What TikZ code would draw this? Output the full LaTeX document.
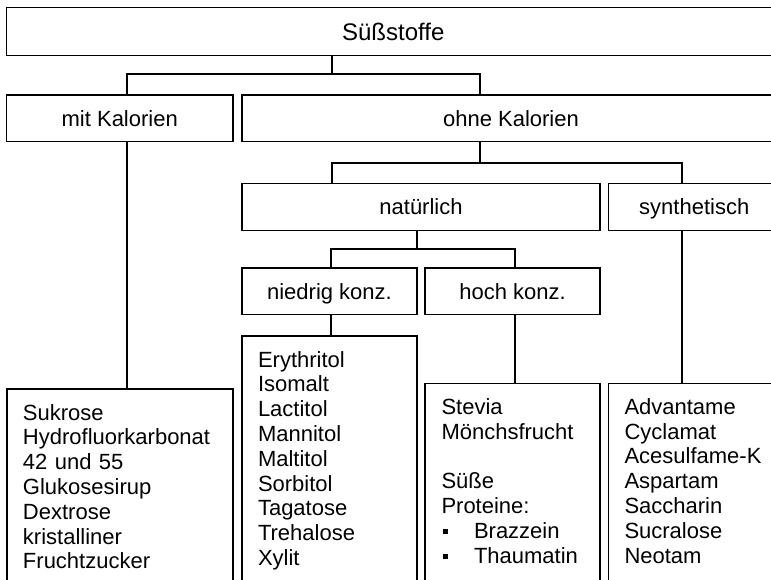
\documentclass[tikz,border=0pt]{standalone}
\usepackage{fontspec}
\setmainfont{Liberation Sans}
\usetikzlibrary{calc}
\begin{document}
\begin{tikzpicture}[x=1pt,y=-1pt,line width=1.4pt,
  box/.style={draw=black,rectangle,inner sep=0pt,outer sep=0pt,anchor=center},
  head/.style={box,font=\fontsize{22}{24.8}\selectfont,text height=15.8pt,text depth=0pt},
  title/.style={box,font=\fontsize{24}{27}\selectfont,text height=17.2pt,text depth=0pt},
  lst/.style={inner sep=0pt,outer sep=0pt,anchor=base west,align=left,text width=160pt,
    font=\fontsize{22}{24.8}\selectfont},
  conn/.style={draw=black,line width=1.4pt}]
\useasboundingbox (0,0) rectangle (771,579);
\clip (0,0) rectangle (771,579);
% header nodes
\node[title,minimum width=773.5pt,minimum height=48.4pt] (top) at (393.25,31.5) {Süßstoffe};
\node[head,minimum width=226.5pt,minimum height=46.7pt] (mit) at (119.75,118.35) {mit Kalorien};
\node[head,minimum width=538pt,minimum height=46.7pt] (ohne) at (511,118.35) {ohne Kalorien};
\node[head,minimum width=358pt,minimum height=47pt] (nat) at (421,207) {natürlich};
\node[head,minimum width=171.5pt,minimum height=47pt] (syn) at (694.25,207) {synthetisch};
\node[head,minimum width=175pt,minimum height=46.7pt] (nied) at (329.5,291.15) {niedrig konz.};
\node[head,minimum width=175pt,minimum height=46.7pt] (hoch) at (512.5,291.15) {hoch konz.};
% list boxes
\node[box,minimum width=226pt,minimum height=211pt] (b1) at (120,494.5) {};
\node[box,minimum width=175pt,minimum height=264pt] (b2) at (329.5,468) {};
\node[box,minimum width=175pt,minimum height=216.7pt] (b3) at (512.5,491.65) {};
\node[box,minimum width=171.5pt,minimum height=216.7pt] (b4) at (694.25,491.65) {};
% list texts
\node[lst] (t1) at ($(b1.north west)+(16,31)$) {Sukrose\\Hydrofluorkarbonat\\42 und 55\\Glukosesirup\\Dextrose\\kristalliner\\Fruchtzucker};
\node[lst] (t2) at ($(b2.north west)+(16,31)$) {Erythritol\\Isomalt\\Lactitol\\Mannitol\\Maltitol\\Sorbitol\\Tagatose\\Trehalose\\Xylit};
\node[lst] (t3) at ($(b3.north west)+(16.5,31)$) {Stevia\\Mönchsfrucht\\[24.8pt]Süße\\Proteine:\\
  \makebox[32.5pt][l]{\hspace{1.6pt}\rule[4.5pt]{5pt}{5pt}}Brazzein\\
  \makebox[32.5pt][l]{\hspace{1.6pt}\rule[4.5pt]{5pt}{5pt}}Thaumatin};
\node[lst] (t4) at ($(b4.north west)+(16,31)$) {Advantame\\Cyclamat\\Acesulfame-K\\Aspartam\\Saccharin\\Sucralose\\Neotam};
% connector x positions and junctions
\coordinate (xa) at (127,0);
\coordinate (xb) at (480,0);
\coordinate (xc) at (332,0);
\coordinate (xd) at (682,0);
\coordinate (xf) at (331,0);
\coordinate (xg) at (515,0);
\coordinate (k1) at (332,74);
\coordinate (k2) at (480,163);
\coordinate (k3) at (417,249);
% connectors
\draw[conn] (top.south -| k1) -- (k1);
\draw[conn] (mit.north -| xa) |- (k1) -| (ohne.north -| xb);
\draw[conn] (ohne.south -| k2) -- (k2);
\draw[conn] (nat.north -| xc) |- (k2) -| (syn.north -| xd);
\draw[conn] (nat.south -| k3) -- (k3);
\draw[conn] (nied.north -| xf) |- (k3) -| (hoch.north -| xg);
\draw[conn] (mit.south -| xa) -- (b1.north -| xa);
\draw[conn] (nied.south -| xf) -- (b2.north -| xf);
\draw[conn] (hoch.south -| xg) -- (b3.north -| xg);
\draw[conn] (syn.south -| xd) -- (b4.north -| xd);
\end{tikzpicture}
\end{document}
